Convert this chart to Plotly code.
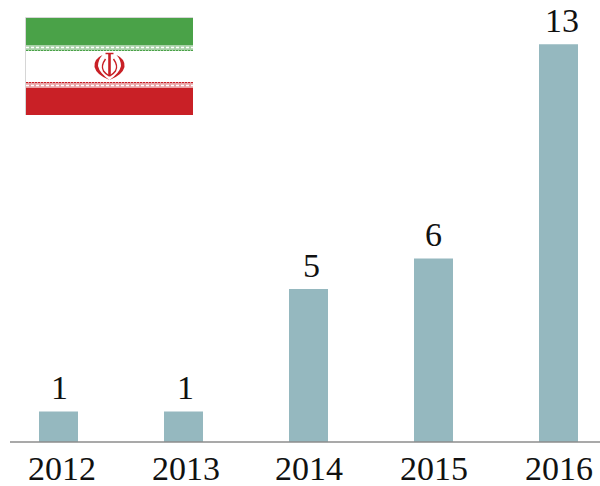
import plotly.graph_objects as go

years = ["2012", "2013", "2014", "2015", "2016"]
counts = [1, 1, 5, 6, 13]

W, H = 600, 486
ML, MR, MT, MB = 10, 0, 0, 44
PW, PH = W - ML - MR, H - MT - MB
FONT = "Liberation Serif"
TEXT = "#111111"
TICK_NUDGE = [3, 2.5, 0.5, 0.5, 0]
VALUE_NUDGE = [0.5, 1.5, 3, 0, 3]


def px(x):
    return (x - ML) / PW


def py(y):
    return 1 - (y - MT) / PH


def rect(x0, y0, x1, y1, color):
    return dict(type="rect", xref="paper", yref="paper", layer="above",
                x0=px(x0), x1=px(x1), y0=py(y1), y1=py(y0), fillcolor=color,
                line=dict(width=0))


def hline(x0, x1, y, color, width=1, dash="solid"):
    return dict(type="line", xref="paper", yref="paper", layer="above",
                x0=px(x0), x1=px(x1), y0=py(y), y1=py(y),
                line=dict(color=color, width=width, dash=dash))


def vline(x, y0, y1, color, width=1):
    return dict(type="line", xref="paper", yref="paper", layer="above",
                x0=px(x), x1=px(x), y0=py(y0), y1=py(y1),
                line=dict(color=color, width=width))


def path(points, color, width=0, fill=None):
    d = ""
    for cmd, *pts in points:
        d += cmd + " ".join(f"{px(pts[i]):.5f},{py(pts[i+1]):.5f}" for i in range(0, len(pts), 2)) + " "
    return dict(type="path", xref="paper", yref="paper", layer="above", path=d.strip(),
                fillcolor=fill if fill else "rgba(0,0,0,0)",
                line=dict(color=color, width=width))


GREEN, RED = "#4aa248", "#c92026"
LGREEN, LRED = "#a9d2a8", "#e8a3a6"
shapes = [
    rect(25.5, 17.5, 193, 115, "#ffffff"),
    rect(26, 18, 193, 45, GREEN),
    rect(26, 45, 193, 51, LGREEN),
    rect(26, 82, 193, 88, LRED),
    rect(26, 88, 193, 115, RED),
    hline(26, 193, 50.5, GREEN, 1, "2px,1px"),
    hline(26, 193, 82.5, RED, 1, "2px,1px"),
    hline(26, 193, 47.5, "#ffffff", 1.5, "3px,2px"),
    hline(26, 193, 85.5, "#ffffff", 1.5, "3px,2px"),
    hline(25.5, 193, 17.5, "#d6d6d6", 1),
    vline(25.5, 17.5, 115, "#d6d6d6", 1),
]
cx = 109.5
shapes += [
    vline(cx, 54, 76, RED, 2.6),
    hline(cx - 4, cx + 4, 53.5, RED, 1.5),
    path([("M", cx - 7, 55), ("Q", cx - 16, 59, cx - 15, 67), ("Q", cx - 13, 75, cx, 80),
          ("Q", cx - 10, 73, cx - 11.5, 66), ("Q", cx - 11.5, 60, cx - 7, 55)], RED, 0, RED),
    path([("M", cx + 7, 55), ("Q", cx + 16, 59, cx + 15, 67), ("Q", cx + 13, 75, cx, 80),
          ("Q", cx + 10, 73, cx + 11.5, 66), ("Q", cx + 11.5, 60, cx + 7, 55)], RED, 0, RED),
    path([("M", cx - 4, 59), ("Q", cx - 9, 66, cx - 6, 71), ("Q", cx - 4, 74, cx, 76)], RED, 1.4),
    path([("M", cx + 4, 59), ("Q", cx + 9, 66, cx + 6, 71), ("Q", cx + 4, 74, cx, 76)], RED, 1.4),
]

xs = list(range(len(years)))
fig = go.Figure(go.Bar(
    x=xs, y=counts, width=0.312, marker=dict(color="#95b8bf", line=dict(width=0)), hoverinfo="skip",
))
for i, c in zip(xs, counts):
    fig.add_annotation(x=i, y=c, text=str(c), showarrow=False, yanchor="bottom", yshift=3,
                       xshift=VALUE_NUDGE[i], font=dict(family=FONT, size=34, color=TEXT))
for i, label in zip(xs, years):
    fig.add_annotation(x=i, y=0, text=label, showarrow=False, yanchor="top", yshift=-6,
                       xshift=TICK_NUDGE[i], font=dict(family=FONT, size=34, color=TEXT))
fig.update_layout(
    width=W, height=H, margin=dict(l=ML, r=MR, t=MT, b=MB, pad=0),
    paper_bgcolor="white", plot_bgcolor="white", showlegend=False, shapes=shapes,
    xaxis=dict(range=[-0.388, 4.332], showticklabels=False, automargin=False,
               showgrid=False, zeroline=False, showline=False, ticks=""),
    yaxis=dict(range=[0, 442 / 30.6], visible=False, showgrid=False, zeroline=False, automargin=False),
)
fig.add_shape(type="line", xref="paper", yref="paper", x0=0, x1=1, y0=0, y1=0, layer="above",
              line=dict(color="#8c8c8c", width=1.5))
fig.write_html("out.html", config=dict(displayModeBar=False),
               post_script="document.body.style.margin='0';document.body.style.overflow='hidden';")
